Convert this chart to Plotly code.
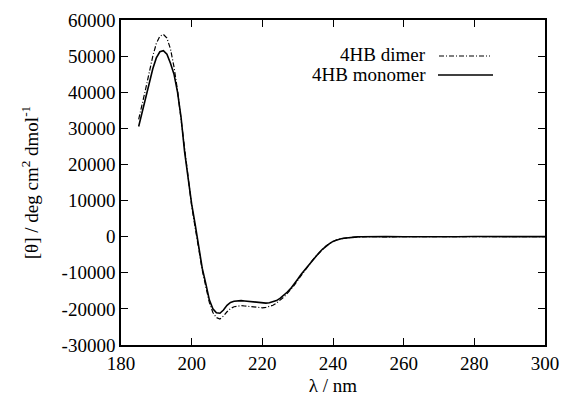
import plotly.graph_objects as go

wavelength = list(range(185, 251)) + [255, 260, 265, 270, 275, 280, 285, 290, 295, 300]

monomer = [30500, 34500, 38500, 42500, 46500, 49500, 51200, 51500, 50500, 48000,
           45000, 40000, 33000, 23500, 15500, 9000, 3300, -3000, -8800, -13000,
           -17500, -20000, -21100, -21200, -20300, -19000, -18200, -17900, -17700, -17700,
           -17800, -17900, -18100, -18300, -18400, -18400, -18400, -18300, -18100, -17700,
           -17100, -16300, -15400, -14400, -13200, -11800, -10400, -9200, -7900, -6800,
           -5600, -4500, -3500, -2600, -1900, -1300, -900, -650, -450, -300,
           -200, -120, -60, -30, -10, 0,
           50, -30, 40, 0, -20, 30, 0, 20, -10, 0]

dimer = [32500, 36500, 41000, 45500, 50000, 53500, 55500, 56000, 55000, 52000,
         47000, 40500, 32500, 23500, 15500, 8500, 2500, -3500, -9300, -13800,
         -18200, -21000, -22400, -22800, -22000, -20800, -19900, -19400, -19200, -19100,
         -19200, -19300, -19500, -19600, -19700, -19700, -19600, -19400, -19000, -18400,
         -17700, -16800, -15800, -14700, -13500, -12100, -10700, -9300, -8000, -6800,
         -5600, -4500, -3500, -2600, -1900, -1300, -900, -650, -450, -300,
         -200, -120, -60, -30, -10, 0,
         -40, 30, 0, 40, 10, -20, 30, 0, 20, 0]

series_names = ["4HB dimer", "4HB monomer"]
x_ticks = [180, 200, 220, 240, 260, 280, 300]
y_ticks = [-30000, -20000, -10000, 0, 10000, 20000, 30000, 40000, 50000, 60000]

font_family = "Liberation Serif, Times New Roman, serif"

fig = go.Figure()
fig.add_trace(go.Scatter(x=wavelength, y=dimer, mode="lines", name=series_names[0],
                         line=dict(color="black", width=1.2, dash="5px,2px,1px,2px")))
fig.add_trace(go.Scatter(x=wavelength, y=monomer, mode="lines", name=series_names[1],
                         line=dict(color="black", width=1.6)))

W, H = 561, 398
L, R, T, B = 121, 16, 20, 53
pw, ph = W - L - R, H - T - B

def px_x(p):
    return (p - L) / pw

def px_y(p):
    return (H - B - p) / ph

# manual legend: right-aligned text followed by line sample
legend_rows = [(series_names[0], 55, "5px,2px,1px,2px", 1.2, 439, 490),
               (series_names[1], 74, "solid", 1.6, 438, 493)]
for name, ypx, dash, w, x0, x1 in legend_rows:
    fig.add_annotation(xref="paper", yref="paper", x=px_x(428), y=px_y(ypx),
                       text=name, showarrow=False, xanchor="right", yanchor="middle",
                       font=dict(family=font_family, size=19, color="black"))
    fig.add_shape(type="line", xref="paper", yref="paper",
                  x0=px_x(x0), x1=px_x(x1), y0=px_y(ypx + 1), y1=px_y(ypx + 1),
                  line=dict(color="black", width=w, dash=dash))

axis_common = dict(showgrid=False, zeroline=False, showline=True, linecolor="black",
                   linewidth=1.5, mirror="ticks", ticks="inside", ticklen=7,
                   tickwidth=1.3, tickcolor="black", automargin=False,
                   tickfont=dict(family=font_family, size=19, color="black"))

fig.update_xaxes(range=[180, 300], tickvals=x_ticks, ticktext=[str(v) for v in x_ticks],
                 title=dict(text="λ / nm", font=dict(family=font_family, size=19, color="black"),
                            standoff=6),
                 **axis_common)
fig.update_yaxes(range=[-30000, 60000], tickvals=y_ticks, ticktext=[str(v) for v in y_ticks],
                 title=dict(text="[θ] / deg cm<sup>2</sup> dmol<sup>-1</sup>",
                            font=dict(family=font_family, size=19, color="black"),
                            standoff=18),
                 **axis_common)

fig.update_layout(width=W, height=H, margin=dict(l=L, r=R, t=T, b=B),
                  plot_bgcolor="white", paper_bgcolor="white", showlegend=False)

fig.write_html("out.html")
